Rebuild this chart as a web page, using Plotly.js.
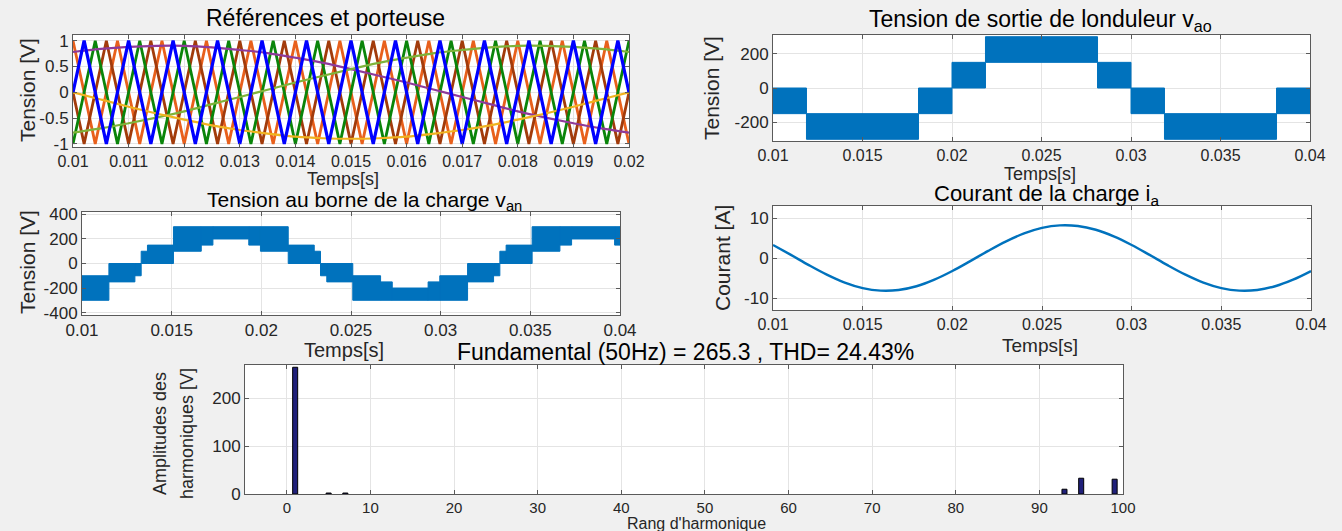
<!DOCTYPE html>
<html>
<head>
<meta charset="utf-8">
<script src="https://cdn.plot.ly/plotly-3.0.1.min.js"></script>
<style>
html,body{margin:0;padding:0;background:#f0f0f0;}
#chart{width:1342px;height:531px;}
</style>
</head>
<body>
<div id="chart"></div>
<script>
// ---------- Data ----------
// Carriers (triangle vertices), plot 1
const carrierTimesA = [0.0100,0.0102,0.0106,0.0110,0.0114,0.0118,0.0122,0.0126,0.0130,0.0134,0.0138,0.0142,0.0146,0.0150,0.0154,0.0158,0.0162,0.0166,0.0170,0.0174,0.0178,0.0182,0.0186,0.0190,0.0194,0.0198,0.0200];
const carrierBlue  = [0,1,-1,1,-1,1,-1,1,-1,1,-1,1,-1,1,-1,1,-1,1,-1,1,-1,1,-1,1,-1,1,0];
const carrierBrown = [0,-1,1,-1,1,-1,1,-1,1,-1,1,-1,1,-1,1,-1,1,-1,1,-1,1,-1,1,-1,1,-1,0];
const carrierTimesB = [0.0100,0.0104,0.0108,0.0112,0.0116,0.0120,0.0124,0.0128,0.0132,0.0136,0.0140,0.0144,0.0148,0.0152,0.0156,0.0160,0.0164,0.0168,0.0172,0.0176,0.0180,0.0184,0.0188,0.0192,0.0196,0.0200];
const carrierGreen  = [-1,1,-1,1,-1,1,-1,1,-1,1,-1,1,-1,1,-1,1,-1,1,-1,1,-1,1,-1,1,-1,1];
const carrierOrange = [1,-1,1,-1,1,-1,1,-1,1,-1,1,-1,1,-1,1,-1,1,-1,1,-1,1,-1,1,-1,1,-1];
// References (sinusoids), plot 1
const refTimes = [0.0100,0.0105,0.0110,0.0115,0.0120,0.0125,0.0130,0.0135,0.0140,0.0145,0.0150,0.0155,0.0160,0.0165,0.0170,0.0175,0.0180,0.0185,0.0190,0.0195,0.0200];
const refA = [0,-0.14,-0.28,-0.41,-0.53,-0.64,-0.73,-0.80,-0.86,-0.89,-0.90,-0.89,-0.86,-0.80,-0.73,-0.64,-0.53,-0.41,-0.28,-0.14,0];
const refB = [0.78,0.84,0.88,0.90,0.90,0.87,0.82,0.76,0.67,0.57,0.45,0.32,0.19,0.05,-0.09,-0.23,-0.37,-0.49,-0.60,-0.70,-0.78];
const refC = [-0.78,-0.70,-0.60,-0.49,-0.37,-0.23,-0.09,0.05,0.19,0.32,0.45,0.57,0.67,0.76,0.82,0.87,0.90,0.90,0.88,0.84,0.78];
// Inverter output voltage v_ao bands, plot 2
const vaoStart = [0.0100,0.01187,0.01813,0.0200,0.02187,0.02813,0.0300,0.03187,0.03813];
const vaoEnd   = [0.01187,0.01813,0.0200,0.02187,0.02813,0.0300,0.03187,0.03813,0.0400];
const vaoLow   = [-150,-300,-150,0,150,0,-150,-300,-150];
const vaoHigh  = [0,-150,0,150,300,150,0,-150,0];
// Load voltage v_an bands, plot 3
const vanStart = [0.0100,0.0115,0.01295,0.0133,0.01365,0.0151,0.01665,0.0173,0.0193,0.01995,0.0215,0.02295,0.0233,0.02365,0.0251,0.02665,0.0273,0.0293,0.02995,0.0315,0.03295,0.0333,0.03365,0.0351,0.03665,0.0373,0.0397];
const vanEnd   = [0.0115,0.01295,0.0133,0.01365,0.0151,0.01665,0.0173,0.0193,0.01995,0.0215,0.02295,0.0233,0.02365,0.0251,0.02665,0.0273,0.0293,0.02995,0.0315,0.03295,0.0333,0.03365,0.0351,0.03665,0.0373,0.0397,0.0400];
const vanLow   = [-300,-150,-100,0,0,100,150,200,150,100,0,0,-100,-150,-300,-300,-300,-300,-300,-150,-100,0,0,100,150,200,150];
const vanHigh  = [-100,0,0,100,150,300,300,300,300,300,150,100,0,0,-100,-150,-200,-150,-100,0,0,100,150,300,300,300,300];
// Load current i_a, plot 4
const curTimes = [0.010,0.011,0.012,0.013,0.014,0.015,0.016,0.017,0.018,0.019,0.020,0.021,0.022,0.023,0.024,0.025,0.026,0.027,0.028,0.029,0.030,0.031,0.032,0.033,0.034,0.035,0.036,0.037,0.038,0.039,0.040];
const curValues = [3.26,0.77,-1.79,-4.17,-6.15,-7.53,-8.16,-8.00,-7.06,-5.42,-3.26,-0.77,1.79,4.17,6.15,7.53,8.16,8.00,7.06,5.42,3.26,0.77,-1.79,-4.17,-6.15,-7.53,-8.16,-8.00,-7.06,-5.42,-3.26];
// Harmonic spectrum, plot 5
const harmOrder = [1,5,7,93,95,99];
const harmAmp   = [265.3,2,2,10,33,31];
// Tick labels
const tick1x = [0.010,0.011,0.012,0.013,0.014,0.015,0.016,0.017,0.018,0.019,0.020];
const tick1xText = ["0.01","0.011","0.012","0.013","0.014","0.015","0.016","0.017","0.018","0.019","0.02"];
const tick1y = [-1,-0.5,0,0.5,1];
const tick1yText = ["-1","-0.5","0","0.5","1"];
const tickTx = [0.010,0.015,0.020,0.025,0.030,0.035,0.040];
const tickTxText = ["0.01","0.015","0.02","0.025","0.03","0.035","0.04"];
const tick2y = [-200,0,200];
const tick2yText = ["-200","0","200"];
const tick3y = [-400,-200,0,200,400];
const tick3yText = ["-400","-200","0","200","400"];
const tick4y = [-10,0,10];
const tick4yText = ["-10","0","10"];
const tick5x = [0,10,20,30,40,50,60,70,80,90,100];
const tick5y = [0,100,200];

// ---------- Helpers ----------
const W = 1342, H = 531;
const FONT = 'Liberation Sans, Arial, sans-serif';
function xd(a,b){return [a/W, b/W];}
function yd(top,bottom){return [1-bottom/H, 1-top/H];}
function bands(s,e,lo,hi){
  const x=[],y=[];
  for(let i=0;i<s.length;i++){
    x.push(s[i],e[i],e[i],s[i],s[i],null);
    y.push(lo[i],lo[i],hi[i],hi[i],lo[i],null);
  }
  return {x,y};
}
const LBL = '#262626';
function ax(extra){
  return Object.assign({
    showline:true, linecolor:'#5a5a5a', linewidth:1, mirror:'ticks',
    ticks:'inside', ticklen:4, tickcolor:'#5a5a5a', tickwidth:1,
    showgrid:true, gridcolor:'#e4e4e4', gridwidth:1, zeroline:false,
    tickfont:{family:FONT, size:17, color:LBL}, fixedrange:true
  }, extra);
}

const blueC = '#0072BD';
const traces = [];
// plot 1
traces.push({x:carrierTimesB, y:carrierOrange, mode:'lines', line:{color:'#E8601C', width:2.8}, xaxis:'x', yaxis:'y'});
traces.push({x:carrierTimesA, y:carrierBrown, mode:'lines', line:{color:'#A23B0B', width:2.8}, xaxis:'x', yaxis:'y'});
traces.push({x:carrierTimesB, y:carrierGreen, mode:'lines', line:{color:'#0A850A', width:2.8}, xaxis:'x', yaxis:'y'});
traces.push({x:refTimes, y:refB, mode:'lines', line:{color:'#8E3A9A', width:2.2, shape:'spline'}, xaxis:'x', yaxis:'y'});
traces.push({x:refTimes, y:refC, mode:'lines', line:{color:'#7FB33A', width:2.2, shape:'spline'}, xaxis:'x', yaxis:'y'});
traces.push({x:refTimes, y:refA, mode:'lines', line:{color:'#F0B321', width:2.2, shape:'spline'}, xaxis:'x', yaxis:'y'});
traces.push({x:carrierTimesA, y:carrierBlue, mode:'lines', line:{color:'#0000FF', width:3.2}, xaxis:'x', yaxis:'y'});
// plot 2
const b2 = bands(vaoStart,vaoEnd,vaoLow,vaoHigh);
traces.push({x:b2.x, y:b2.y, mode:'lines', fill:'toself', fillcolor:blueC, line:{color:blueC, width:1}, xaxis:'x2', yaxis:'y2'});
// plot 3
const b3 = bands(vanStart,vanEnd,vanLow,vanHigh);
traces.push({x:b3.x, y:b3.y, mode:'lines', fill:'toself', fillcolor:blueC, line:{color:blueC, width:1}, xaxis:'x3', yaxis:'y3'});
// plot 4
traces.push({x:curTimes, y:curValues, mode:'lines', line:{color:blueC, width:2.4, shape:'spline'}, xaxis:'x4', yaxis:'y4'});
// plot 5
traces.push({type:'bar', x:harmOrder, y:harmAmp, width:0.6, marker:{color:'#20207A', line:{color:'#000000', width:1}}, xaxis:'x5', yaxis:'y5'});

function ann(text,px,py,size,opts){
  return Object.assign({text:text, x:px/W, y:1-py/H, xref:'paper', yref:'paper', showarrow:false,
    xanchor:'center', yanchor:'middle', font:{family:FONT, size:size, color:'#000000'}}, opts||{});
}
const annotations = [
  ann('Références et porteuse', 325, 18, 23),
  ann('Tension de sortie de londuleur v<sub>ao</sub>', 1040, 21, 23),
  ann('Temps[s]', 343, 179, 18, {font:{family:FONT,size:18,color:LBL}}),
  ann('Temps[s]', 1040, 174, 18, {font:{family:FONT,size:18,color:LBL}}),
  ann('Tension au borne de la charge v<sub>an</sub>', 364, 201, 21),
  ann('Courant de la charge i<sub>a</sub>', 1046, 195, 22),
  ann('Temps[s]', 344, 350, 20, {font:{family:FONT,size:20,color:LBL}}),
  ann('Temps[s]', 1040, 345, 19, {font:{family:FONT,size:19,color:LBL}}),
  ann('Fundamental (50Hz) = 265.3 , THD= 24.43%', 685, 352, 23),
  ann("Rang d'harmonique", 696, 523, 16, {font:{family:FONT,size:16,color:LBL}}),
  ann('Tension [V]', 27, 90, 21, {textangle:-90, font:{family:FONT,size:21,color:LBL}}),
  ann('Tension [V]', 712, 88, 21, {textangle:-90, font:{family:FONT,size:21,color:LBL}}),
  ann('Tension [V]', 27, 262, 21, {textangle:-90, font:{family:FONT,size:21,color:LBL}}),
  ann('Courant [A]', 722, 258, 21, {textangle:-90, font:{family:FONT,size:21,color:LBL}}),
  ann('Amplitudes des', 160, 434, 18, {textangle:-90, font:{family:FONT,size:18,color:LBL}}),
  ann('harmoniques [V]', 187, 433, 18, {textangle:-90, font:{family:FONT,size:18,color:LBL}})
];

const layout = {
  width:W, height:H, margin:{l:0,r:0,t:0,b:0},
  paper_bgcolor:'#f0f0f0', plot_bgcolor:'#ffffff', showlegend:false,
  xaxis: ax({domain:xd(73,629), anchor:'y', range:[0.01,0.02], tickvals:tick1x, ticktext:tick1xText, tickfont:{family:FONT,size:16,color:LBL}}),
  yaxis: ax({domain:yd(35,147), anchor:'x', range:[-1.06,1.11], tickvals:tick1y, ticktext:tick1yText}),
  xaxis2: ax({domain:xd(773,1310), anchor:'y2', range:[0.01,0.04], tickvals:tickTx, ticktext:tickTxText, tickfont:{family:FONT,size:16,color:LBL}}),
  yaxis2: ax({domain:yd(35,141), anchor:'x2', range:[-310,310], tickvals:tick2y, ticktext:tick2yText}),
  xaxis3: ax({domain:xd(82,620), anchor:'y3', range:[0.01,0.04], tickvals:tickTx, ticktext:tickTxText}),
  yaxis3: ax({domain:yd(212,315), anchor:'x3', range:[-420,420], tickvals:tick3y, ticktext:tick3yText}),
  xaxis4: ax({domain:xd(773,1311), anchor:'y4', range:[0.01,0.04], tickvals:tickTx, ticktext:tickTxText, tickfont:{family:FONT,size:16,color:LBL}}),
  yaxis4: ax({domain:yd(206,310), anchor:'x4', range:[-13,13], tickvals:tick4y, ticktext:tick4yText}),
  xaxis5: ax({domain:xd(245,1123), anchor:'y5', range:[-5,100], tickvals:tick5x, tickfont:{family:FONT,size:15,color:LBL}}),
  yaxis5: ax({domain:yd(365,494), anchor:'x5', range:[0,270], tickvals:tick5y, tickfont:{family:FONT,size:17,color:LBL}}),
  annotations: annotations
};

Plotly.newPlot('chart', traces, layout, {staticPlot:true, displayModeBar:false});
</script>
</body>
</html>
